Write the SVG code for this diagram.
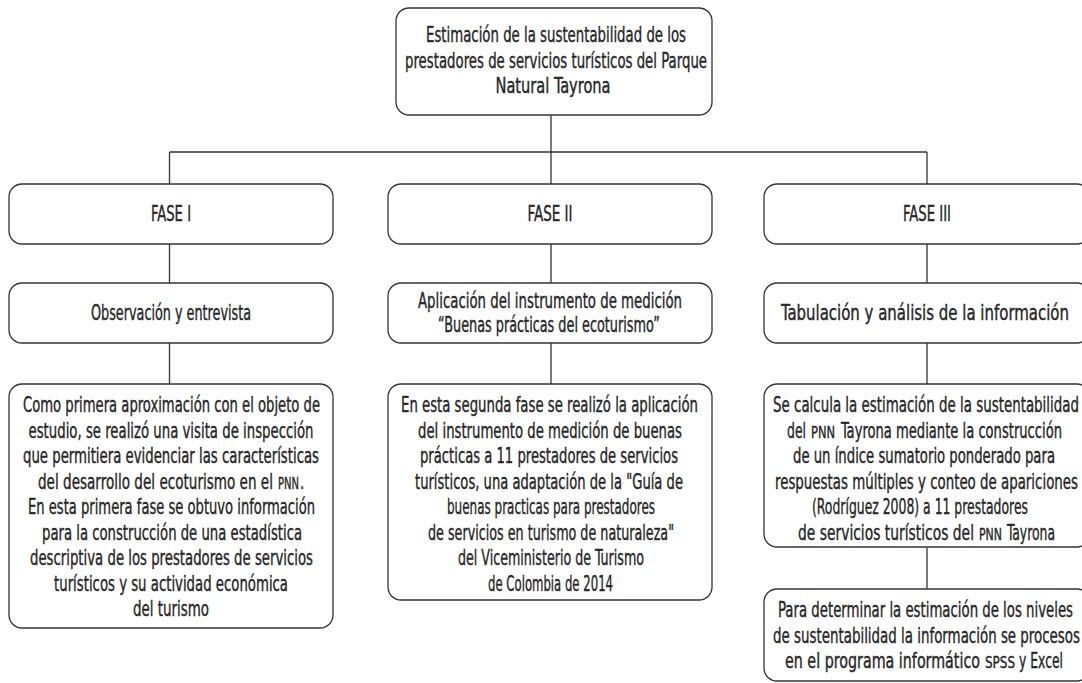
<svg xmlns="http://www.w3.org/2000/svg" width="1082" height="683" viewBox="0 0 1082 683">
<style>
.box{fill:#fff;stroke:#333;stroke-width:1.3}
.con{fill:none;stroke:#333;stroke-width:1.3}
text{font-family:'DejaVu Sans Condensed','Liberation Sans Narrow','Liberation Sans',sans-serif;font-size:14.8px;fill:#262626;stroke:#262626;stroke-width:0.26;text-anchor:middle}
text.s{text-anchor:start}
text.sc{font-size:11px}
</style>
<rect width="1082" height="683" fill="#fff"/>
<g id="connectors">
<path class="con" d="M551,115V283M169.5,152H927M169.5,152V184M927,152V184M169.5,244V283M927,244V283M169.5,343V384M551,343V384M927,343V384M927,548V589"/>
</g>
<g id="root">
<rect class="box" x="396" y="8" width="316" height="107" rx="13"/>
<text transform="translate(556 42) scale(1 1.42)" textLength="260" lengthAdjust="spacingAndGlyphs">Estimación de la sustentabilidad de los</text>
<text transform="translate(556 67.5) scale(1 1.42)" textLength="302" lengthAdjust="spacingAndGlyphs">prestadores de servicios turísticos del Parque</text>
<text transform="translate(553 93) scale(1 1.42)" textLength="115" lengthAdjust="spacingAndGlyphs">Natural Tayrona</text>
</g>
<g id="fase1">
<rect class="box" x="9" y="184" width="324" height="60" rx="13"/>
<text transform="translate(171 221) scale(1 1.42)" textLength="40" lengthAdjust="spacingAndGlyphs">FASE I</text>
</g>
<g id="fase2">
<rect class="box" x="388" y="184" width="324" height="60" rx="13"/>
<text transform="translate(550 221) scale(1 1.42)" textLength="45" lengthAdjust="spacingAndGlyphs">FASE II</text>
</g>
<g id="fase3">
<rect class="box" x="764" y="184" width="326" height="60" rx="13"/>
<text transform="translate(927 221) scale(1 1.42)" textLength="48" lengthAdjust="spacingAndGlyphs">FASE III</text>
</g>
<g id="obs">
<rect class="box" x="9" y="283" width="324" height="60" rx="13"/>
<text transform="translate(171 320) scale(1 1.42)" textLength="160" lengthAdjust="spacingAndGlyphs">Observación y entrevista</text>
</g>
<g id="aplic">
<rect class="box" x="388" y="283" width="324" height="60" rx="13"/>
<text transform="translate(550 308) scale(1 1.42)" textLength="264" lengthAdjust="spacingAndGlyphs">Aplicación del instrumento de medición</text>
<text transform="translate(549 332) scale(1 1.42)" textLength="222" lengthAdjust="spacingAndGlyphs">“Buenas prácticas del ecoturismo”</text>
</g>
<g id="tabul">
<rect class="box" x="764" y="283" width="326" height="60" rx="13"/>
<text transform="translate(925 320) scale(1 1.42)" textLength="288" lengthAdjust="spacingAndGlyphs">Tabulación y análisis de la información</text>
</g>
<g id="desc1">
<rect class="box" x="9" y="384" width="324" height="244" rx="13"/>
<text transform="translate(171.5 412) scale(1 1.42)" textLength="297" lengthAdjust="spacingAndGlyphs">Como primera aproximación con el objeto de</text>
<text transform="translate(171 437.5) scale(1 1.42)" textLength="285" lengthAdjust="spacingAndGlyphs">estudio, se realizó una visita de inspección</text>
<text transform="translate(171 463) scale(1 1.42)" textLength="296" lengthAdjust="spacingAndGlyphs">que permitiera evidenciar las características</text>
<text class="s" transform="translate(38 488.5) scale(1 1.42)" textLength="235" lengthAdjust="spacingAndGlyphs">del desarrollo del ecoturismo en el</text>
<text class="s sc" transform="translate(278 488.5) scale(1 1.42)" textLength="21" lengthAdjust="spacingAndGlyphs">PNN</text>
<text class="s" transform="translate(300 488.5) scale(1 1.42)">.</text>
<text transform="translate(171.5 514) scale(1 1.42)" textLength="287" lengthAdjust="spacingAndGlyphs">En esta primera fase se obtuvo información</text>
<text transform="translate(172 539.5) scale(1 1.42)" textLength="260" lengthAdjust="spacingAndGlyphs">para la construcción de una estadística</text>
<text transform="translate(171.5 565) scale(1 1.42)" textLength="283" lengthAdjust="spacingAndGlyphs">descriptiva de los prestadores de servicios</text>
<text transform="translate(171 590.5) scale(1 1.42)" textLength="234" lengthAdjust="spacingAndGlyphs">turísticos y su actividad económica</text>
<text transform="translate(171 616) scale(1 1.42)" textLength="76" lengthAdjust="spacingAndGlyphs">del turismo</text>
</g>
<g id="desc2">
<rect class="box" x="388" y="384" width="324" height="216" rx="13"/>
<text transform="translate(549.5 412) scale(1 1.42)" textLength="297" lengthAdjust="spacingAndGlyphs">En esta segunda fase se realizó la aplicación</text>
<text transform="translate(550 437.5) scale(1 1.42)" textLength="264" lengthAdjust="spacingAndGlyphs">del instrumento de medición de buenas</text>
<text transform="translate(549 463) scale(1 1.42)" textLength="258" lengthAdjust="spacingAndGlyphs">prácticas a 11 prestadores de servicios</text>
<text transform="translate(549 488.5) scale(1 1.42)" textLength="268" lengthAdjust="spacingAndGlyphs">turísticos, una adaptación de la "Guía de</text>
<text transform="translate(551 514) scale(1 1.42)" textLength="208" lengthAdjust="spacingAndGlyphs">buenas practicas para prestadores</text>
<text transform="translate(551 539.5) scale(1 1.42)" textLength="246" lengthAdjust="spacingAndGlyphs">de servicios en turismo de naturaleza"</text>
<text transform="translate(551 565) scale(1 1.42)" textLength="186" lengthAdjust="spacingAndGlyphs">del Viceministerio de Turismo</text>
<text transform="translate(550.5 590.5) scale(1 1.42)" textLength="125" lengthAdjust="spacingAndGlyphs">de Colombia de 2014</text>
</g>
<g id="desc3">
<rect class="box" x="764" y="384" width="326" height="163" rx="13"/>
<text transform="translate(926 412) scale(1 1.42)" textLength="306" lengthAdjust="spacingAndGlyphs">Se calcula la estimación de la sustentabilidad</text>
<text class="s" transform="translate(787 437.5) scale(1 1.42)" textLength="19" lengthAdjust="spacingAndGlyphs">del</text>
<text class="s sc" transform="translate(811 437.5) scale(1 1.42)" textLength="24" lengthAdjust="spacingAndGlyphs">PNN</text>
<text class="s" transform="translate(841 437.5) scale(1 1.42)" textLength="221" lengthAdjust="spacingAndGlyphs">Tayrona mediante la construcción</text>
<text transform="translate(924 463) scale(1 1.42)" textLength="262" lengthAdjust="spacingAndGlyphs">de un índice sumatorio ponderado para</text>
<text transform="translate(926.5 488.5) scale(1 1.42)" textLength="303" lengthAdjust="spacingAndGlyphs">respuestas múltiples y conteo de apariciones</text>
<text transform="translate(920 514) scale(1 1.42)" textLength="216" lengthAdjust="spacingAndGlyphs">(Rodríguez 2008) a 11 prestadores</text>
<text class="s" transform="translate(798 539.5) scale(1 1.42)" textLength="176" lengthAdjust="spacingAndGlyphs">de servicios turísticos del</text>
<text class="s sc" transform="translate(979 539.5) scale(1 1.42)" textLength="23" lengthAdjust="spacingAndGlyphs">PNN</text>
<text class="s" transform="translate(1007 539.5) scale(1 1.42)" textLength="48" lengthAdjust="spacingAndGlyphs">Tayrona</text>
</g>
<g id="proc">
<rect class="box" x="764" y="589" width="326" height="92" rx="13"/>
<text transform="translate(925.5 617) scale(1 1.42)" textLength="295" lengthAdjust="spacingAndGlyphs">Para determinar la estimación de los niveles</text>
<text transform="translate(926.5 642.5) scale(1 1.42)" textLength="307" lengthAdjust="spacingAndGlyphs">de sustentabilidad la información se procesos</text>
<text class="s" transform="translate(785 668) scale(1 1.42)" textLength="195" lengthAdjust="spacingAndGlyphs">en el programa informático</text>
<text class="s sc" transform="translate(985 668) scale(1 1.42)" textLength="30" lengthAdjust="spacingAndGlyphs">SPSS</text>
<text class="s" transform="translate(1019 668) scale(1 1.42)" textLength="44" lengthAdjust="spacingAndGlyphs">y Excel</text>
</g>
</svg>
